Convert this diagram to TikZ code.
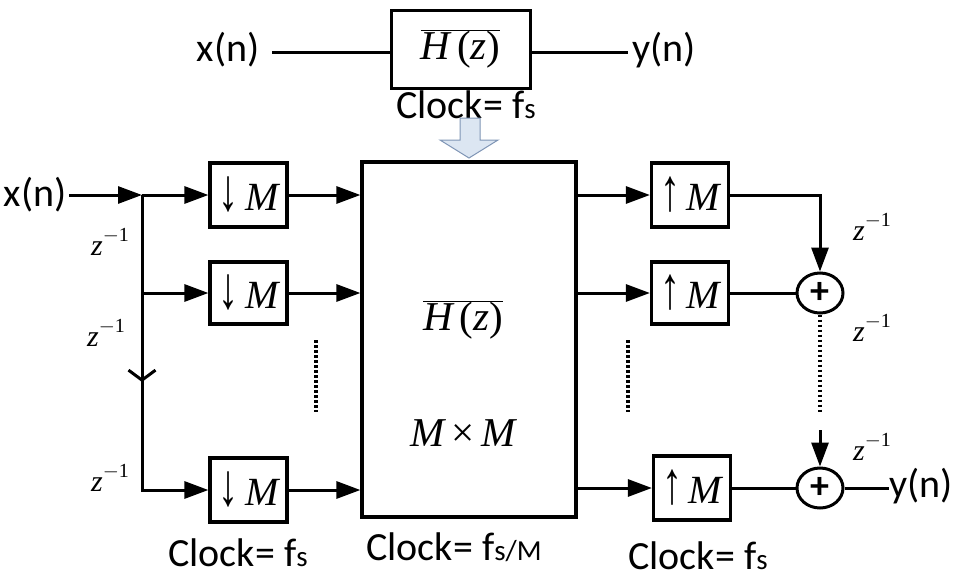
\documentclass[tikz,border=0pt]{standalone}
\usepackage{fontspec}
\setmainfont{Carlito}
\newfontfamily\tms{Liberation Serif}
\usetikzlibrary{arrows.meta,shapes.geometric}
\newcommand\fsub{f{\fontsize{29}{29}\selectfont s}}
\newcommand\zinv{{\tms\itshape z}\raisebox{0.45em}{\fontsize{20}{20}\selectfont\tms $-$1}}
\newcommand\Hz{\(\overline{\hbox{\tms\itshape H\,\upshape(\itshape z\upshape)}}\)}
\newcommand\dn{\scalebox{1}[1.5]{↓}}
\newcommand\up{\scalebox{1}[1.5]{↑}}
\begin{document}
\begin{tikzpicture}[x=1pt,y=-1pt,
  lbl/.style={font=\fontsize{40}{40}\selectfont, inner sep=0pt},
  clk/.style={font=\fontsize{40}{40}\selectfont, inner sep=0pt},
  mth/.style={font=\fontsize{41}{41}\selectfont\tms, inner sep=0pt},
  zl/.style={font=\fontsize{30}{30}\selectfont, inner sep=0pt},
  blk/.style={draw, line width=3.2pt, minimum width=77pt, minimum height=64pt, inner sep=0pt, font=\fontsize{40}{40}\selectfont\tms},
  sig/.style={line width=3pt},
  arr/.style={sig, -{Triangle[length=24pt,width=17pt]}},
  dots/.style={line width=3.5pt, dash pattern=on 2.5pt off 2.5pt},
  adder/.style={ellipse, draw, line width=3pt, minimum width=46pt, minimum height=40pt, inner sep=0pt, font=\fontsize{38}{38}\selectfont\bfseries}]
\useasboundingbox (0,0) rectangle (962,579);
% top system
\node[lbl] (tx) at (228,50) {x(n)};
\node[draw, line width=3pt, minimum width=139pt, minimum height=78pt, inner sep=0pt, font=\fontsize{41}{41}\selectfont] (th) at (460.5,49) {\Hz};
\node[lbl] (ty) at (664,50) {y(n)};
\coordinate (tl) at (272,52);
\coordinate (tr) at (628,52);
\draw[sig] (tl) -- (th.west |- tl);
\draw[sig] (th.east |- tr) -- (tr);
\node[clk] (tclk) at (466,105) {Clock= \fsub};
% hollow arrow
\draw[fill={rgb,255:red,220;green,230;blue,242}, draw={rgb,255:red,127;green,149;blue,181}, line width=1pt]
  (460,118) -- (480,118) -- (480,140) -- (498,140) -- (469,158) -- (440,140) -- (460,140) -- cycle;
% big box
\node[draw, line width=3.2pt, minimum width=214pt, minimum height=355pt, inner sep=0pt] (big) at (469,339.5) {};
\node[mth] (bh) at (463,320) {\Hz};
\node[mth] (bm) at (463,433) {{\itshape M}\,×\,{\itshape M}};
\node[clk] (bclk) at (454,547) {Clock= f{\fontsize{29}{29}\selectfont s/M}};
% left side
\node[lbl, inner sep=3pt] (xin) at (35,195) {x(n)};
\coordinate (j1) at (142,195);
\node[blk] (d1) at (248.5,195) {\dn\,{\itshape M}};
\node[blk, minimum height=62pt] (d2) at (248.5,293) {\dn\,{\itshape M}};
\node[blk] (d3) at (248.5,490) {\dn\,{\itshape M}};
\draw[arr] (xin.east) -- (j1);
\draw[arr] (j1) -- (d1.west);
\draw[arr] (j1 |- d2.west) -- (d2.west);
\draw[arr] (j1) |- (d3.west);
\coordinate (va) at (142,360);
\coordinate (vb) at (142,382);
\draw[sig, -{Straight Barb[length=10pt,width=27pt,line width=3pt]}] (va) -- (vb);
\draw[arr] (d1.east) -- (big.west |- d1.east);
\draw[arr] (d2.east) -- (big.west |- d2.east);
\draw[arr] (d3.east) -- (big.west |- d3.east);
\node[zl] (z1) at (110,242) {\zinv};
\node[zl] (z2) at (106,333) {\zinv};
\node[zl] (z3) at (110,478) {\zinv};
\coordinate (ld1) at (316,340);
\coordinate (ld2) at (316,412);
\draw[dots] (ld1) -- (ld2);
\node[clk] (lclk) at (238,553) {Clock= \fsub};
% right side
\node[blk] (u1) at (690,195) {\up\,{\itshape M}};
\node[blk, minimum height=62pt] (u2) at (690,293) {\up\,{\itshape M}};
\node[blk] (u3) at (692,488) {\up\,{\itshape M}};
\draw[arr] (big.east |- u1.west) -- (u1.west);
\draw[arr] (big.east |- u2.west) -- (u2.west);
\draw[arr] (big.east |- u3.west) -- (u3.west);
\node[adder] (a1) at (820,293) {+};
\node[adder] (a2) at (820,488) {+};
\draw[arr] (u1.east) -| (a1.north);
\draw[sig] (u2.east) -- (a1.west);
\draw[sig] (u3.east) -- (a2.west);
\coordinate (rd2) at (820,413);
\draw[dots] (a1.south) -- (rd2);
\coordinate (ra) at (820,430);
\draw[arr] (ra) -- (a2.north);
\coordinate (mid1) at (628,340);
\coordinate (mid2) at (628,412);
\draw[dots] (mid1) -- (mid2);
\node[lbl] (yout) at (921,486) {y(n)};
\draw[sig] (a2.east) -- (yout.west |- a2.east);
\node[zl] (z4) at (872,227) {\zinv};
\node[zl] (z5) at (872,328) {\zinv};
\node[zl] (z6) at (872,447) {\zinv};
\node[clk] (rclk) at (698,556) {Clock= \fsub};
\end{tikzpicture}
\end{document}
